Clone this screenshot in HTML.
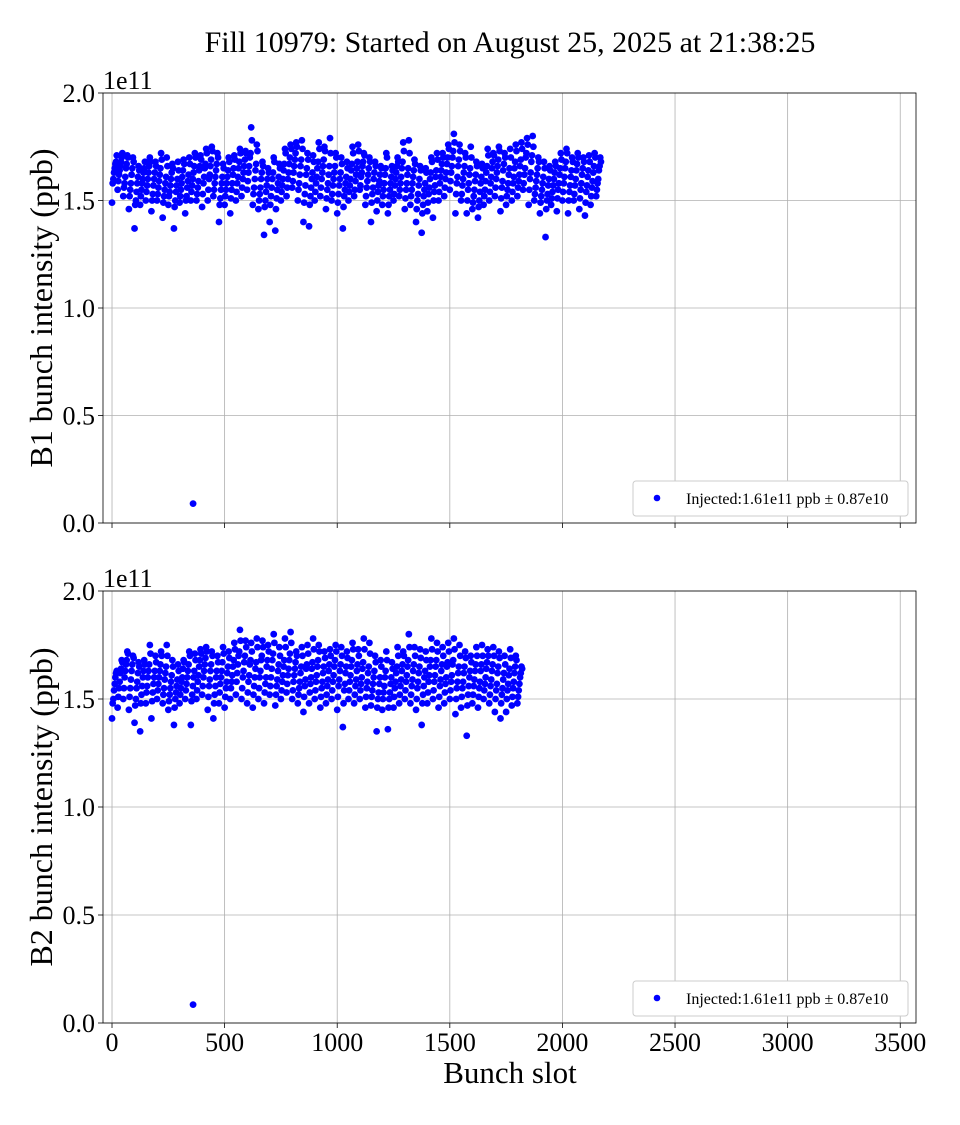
<!DOCTYPE html>
<html><head><meta charset="utf-8">
<style>
body{margin:0;background:#fff;}
svg text{font-family:"Liberation Serif",serif;fill:#000;}
</style></head>
<body>
<svg id="chart" width="960" height="1120" viewBox="0 0 960 1120" xmlns="http://www.w3.org/2000/svg">
<text x="510" y="52" font-size="30" text-anchor="middle">Fill 10979: Started on August 25, 2025 at 21:38:25</text>
<g id="p1"></g>
<g id="p2"></g>
<text x="510" y="1083" font-size="31" text-anchor="middle">Bunch slot</text>
</svg>
<script>
const xTicks=[0,500,1000,1500,2000,2500,3000,3500];
const yTicks=[0,0.5,1.0,1.5,2.0];
const yTickLabels=["0.0","0.5","1.0","1.5","2.0"];
const groupStarts1=[0,25,50,75,100,125,150,175,200,225,250,275,300,325,350,375,400,425,450,475,500,525,550,575,600,625,650,675,700,725,750,775,800,825,850,875,900,925,950,975,1000,1025,1050,1075,1100,1125,1150,1175,1200,1225,1250,1275,1300,1325,1350,1375,1400,1425,1450,1475,1500,1525,1550,1575,1600,1625,1650,1675,1700,1725,1750,1775,1800,1825,1850,1875,1900,1925,1950,1975,2000,2025,2050,2075,2100,2125,2150];
const b1Values=[[149,160,165,168],[155,162,166,170],[152,158,165,171],[146,155,162,170],[137,150,158,166],[148,155,160,165],[150,157,163,170],[145,153,160,168],[150,156,162,172],[142,152,158,170],[148,154,160,167],[137,150,157,168],[149,155,161,169],[144,152,159,170],[150,157,163,172],[150,156,164,171],[147,158,165,174],[150,160,166,175],[152,158,164,172],[140,151,158,167],[148,155,161,170],[144,155,162,171],[150,158,165,174],[152,160,166,173],[155,163,170,184],[148,156,164,176],[146,153,160,168],[134,150,157,165],[140,152,160,170],[136,151,158,167],[150,157,164,174],[152,160,167,176],[156,163,169,177],[150,158,166,178],[140,153,162,172],[138,152,160,171],[150,158,165,177],[152,160,166,175],[146,155,162,179],[150,157,163,172],[144,153,160,170],[137,152,158,168],[150,157,164,175],[152,159,165,176],[155,161,166,172],[148,156,162,170],[140,153,160,168],[145,154,159,166],[148,155,162,172],[144,152,158,166],[150,157,163,170],[152,158,165,177],[146,155,162,178],[148,155,161,169],[140,150,157,166],[135,148,155,165],[145,153,160,170],[142,154,161,172],[150,158,164,172],[152,160,167,176],[155,163,170,181],[144,158,166,176],[150,157,163,172],[144,155,162,175],[146,152,159,168],[142,150,158,167],[148,155,163,174],[150,158,165,172],[152,160,166,175],[145,156,164,172],[148,155,162,174],[150,158,165,176],[152,159,166,177],[155,162,170,179],[148,160,168,180],[150,156,162,170],[144,152,158,168],[133,150,157,166],[148,154,160,168],[145,155,162,172],[150,158,165,174],[144,154,161,170],[150,157,164,172],[146,155,162,170],[143,154,161,171],[148,156,163,172],[152,158,164,170]];
const b1ValuesB=[[158,163,167,171],[159,164,168,172],[156,161,167,170],[152,158,165,168],[148,154,161,164],[152,158,163,168],[154,160,166,168],[150,157,163,166],[153,159,165,169],[149,155,161,166],[152,157,163,165],[147,154,160,164],[152,158,164,167],[150,156,162,167],[154,160,166,170],[153,159,166,169],[153,161,167,172],[155,162,169,173],[155,161,167,170],[148,155,161,165],[152,158,164,168],[151,158,165,169],[154,161,168,172],[156,163,169,172],[159,166,172,178],[153,160,167,173],[150,156,163,166],[147,154,160,163],[148,156,163,168],[146,155,161,165],[154,160,167,172],[156,163,170,174],[159,166,172,175],[155,162,169,174],[149,157,165,169],[148,156,163,168],[154,161,168,174],[156,163,169,173],[151,158,166,172],[153,160,166,170],[149,157,163,167],[147,155,161,165],[154,160,167,172],[155,162,168,173],[157,163,168,171],[152,159,165,168],[149,156,163,166],[150,157,162,165],[152,158,165,170],[148,155,161,164],[153,160,166,168],[155,161,168,173],[151,158,165,172],[152,158,164,167],[146,153,160,164],[144,152,158,163],[149,156,163,168],[150,157,164,169],[154,161,167,170],[156,163,170,174],[159,166,173,177],[153,161,169,173],[153,160,166,170],[150,158,165,170],[149,155,162,166],[147,154,161,165],[152,159,166,171],[154,161,168,171],[156,163,169,173],[151,159,167,170],[152,158,165,170],[154,161,168,173],[156,162,169,174],[158,165,172,176],[155,163,171,175],[153,159,165,168],[149,155,161,165],[146,153,160,164],[151,157,163,166],[151,158,165,169],[154,161,168,172],[150,157,164,168],[153,160,167,170],[151,158,165,168],[149,157,164,168],[152,159,166,170],[155,160,166,168]];
const groupStarts2=[0,25,50,75,100,125,150,175,200,225,250,275,300,325,350,375,400,425,450,475,500,525,550,575,600,625,650,675,700,725,750,775,800,825,850,875,900,925,950,975,1000,1025,1050,1075,1100,1125,1150,1175,1200,1225,1250,1275,1300,1325,1350,1375,1400,1425,1450,1475,1500,1525,1550,1575,1600,1625,1650,1675,1700,1725,1750,1775,1800];
const b2Values=[[141,150,157,162],[146,155,162,168],[150,160,166,172],[145,155,163,170],[139,150,158,167],[135,152,160,168],[148,156,163,175],[141,153,160,170],[150,157,163,172],[148,155,162,175],[145,152,158,168],[138,150,156,166],[148,155,160,168],[150,157,163,172],[138,152,160,171],[150,158,165,173],[152,160,166,174],[145,156,163,172],[141,152,160,170],[148,157,163,174],[146,155,162,172],[150,158,165,176],[152,162,170,182],[150,160,167,177],[148,158,166,176],[146,156,164,178],[150,160,168,177],[148,157,165,175],[152,160,168,180],[147,156,163,174],[150,158,165,178],[153,161,168,181],[150,158,164,172],[148,155,162,174],[144,156,164,175],[148,157,164,178],[150,158,165,175],[146,155,162,172],[148,156,163,173],[150,158,165,175],[145,156,163,174],[137,154,162,172],[150,158,165,176],[148,156,163,173],[150,157,164,178],[146,155,162,176],[147,154,160,170],[135,150,157,168],[145,153,160,172],[136,150,157,167],[146,155,162,174],[148,156,163,172],[150,158,165,180],[148,156,163,174],[145,155,162,173],[138,152,160,172],[148,158,165,178],[150,158,165,176],[146,156,163,174],[148,157,165,176],[150,158,166,178],[143,155,162,175],[146,155,162,172],[133,152,160,170],[148,156,163,174],[146,155,163,175],[150,157,164,173],[148,156,163,174],[144,154,162,172],[141,152,159,170],[144,154,161,173],[147,155,162,170],[148,154,160,165]];
const b2ValuesB=[[148,154,160,163],[151,158,164,167],[155,163,168,171],[151,159,166,169],[147,155,162,165],[148,156,163,166],[153,160,166,171],[149,157,163,167],[154,160,166,170],[152,159,165,170],[149,155,161,165],[146,153,159,163],[152,158,164,167],[154,160,166,170],[149,156,163,168],[154,161,168,171],[156,163,169,172],[151,159,166,170],[148,156,163,167],[153,160,167,171],[151,158,165,169],[155,161,168,173],[158,166,172,177],[155,163,170,174],[153,161,168,172],[152,160,167,174],[155,163,170,174],[153,160,168,172],[156,164,171,176],[152,159,166,170],[154,161,168,174],[157,164,171,176],[154,161,167,170],[152,158,165,170],[151,159,166,171],[153,160,167,173],[154,161,168,172],[151,158,165,169],[152,159,166,170],[154,161,168,172],[151,159,166,170],[148,157,165,169],[154,161,168,173],[152,159,166,170],[154,160,167,173],[151,158,165,171],[151,157,163,167],[146,153,160,165],[150,156,163,168],[146,153,160,164],[151,158,165,170],[152,159,166,170],[154,161,168,174],[152,159,166,170],[150,158,165,169],[148,156,163,168],[153,161,168,173],[154,161,168,172],[151,159,166,170],[153,160,167,172],[154,161,168,173],[150,158,165,170],[151,158,165,169],[147,156,163,167],[152,159,166,170],[151,158,166,170],[154,160,167,170],[152,159,166,170],[150,157,165,169],[148,155,162,166],[150,157,164,169],[151,158,165,168],[151,157,162,164]];
const b1Outlier=[360,9];
const b2Outlier=[360,8.5];
const legendText="Injected:1.61e11 ppb \u00b1 0.87e10";

const NS="http://www.w3.org/2000/svg";
function mk(parent,tag,attrs){const e=document.createElementNS(NS,tag);for(const k in attrs)e.setAttribute(k,attrs[k]);parent.appendChild(e);return e;}
const L=103,R=916,xMin=-40,xMax=3570;
function xs(s){return L+(s-xMin)/(xMax-xMin)*(R-L);}

function panel(g,top,bottom,starts,vals,valsB,outlier,label,showX){
  const ys=v=>bottom-(v/2.0)*(bottom-top);
  for(const t of xTicks){const l=mk(g,'line',{x1:xs(t),x2:xs(t),y1:top,y2:bottom,stroke:'#b0b0b0','stroke-width':0.8});
    
    const tk=mk(g,'line',{x1:xs(t),x2:xs(t),y1:bottom,y2:bottom+5,stroke:'#000','stroke-width':0.8});
    
    if(showX){const tx=mk(g,'text',{x:xs(t),y:bottom+28,'font-size':26,'text-anchor':'middle'});tx.textContent=t;
      }
  }
  yTicks.forEach((t,i)=>{const l=mk(g,'line',{x1:L,x2:R,y1:ys(t),y2:ys(t),stroke:'#b0b0b0','stroke-width':0.8});
    
    const tk=mk(g,'line',{x1:L-5,x2:L,y1:ys(t),y2:ys(t),stroke:'#000','stroke-width':0.8});
    
    const tx=mk(g,'text',{x:L-8,y:ys(t)+9,'font-size':26,'text-anchor':'end'});tx.textContent=yTickLabels[i];
    });
  const off=mk(g,'text',{x:L,y:top-4,'font-size':26});off.textContent='1e11';
  
  const yl=mk(g,'text',{x:0,y:0,'font-size':32,'text-anchor':'middle',transform:`translate(52,${(top+bottom)/2}) rotate(-90)`});yl.textContent=label;
  
  starts.forEach((s,gi)=>{
    vals[gi].forEach((v,i)=>{
      const c=mk(g,'circle',{cx:xs(s+i*6),cy:ys(v/100),r:3.4,fill:'#0000ff'});
      });
    valsB[gi].forEach((v,i)=>{
      const c=mk(g,'circle',{cx:xs(s+3+i*6),cy:ys(v/100),r:3.4,fill:'#0000ff'});
      });
  });
  const o=mk(g,'circle',{cx:xs(outlier[0]),cy:ys(outlier[1]/100),r:3.4,fill:'#0000ff'});
  
  const fr=mk(g,'rect',{x:L,y:top,width:R-L,height:bottom-top,fill:'none',stroke:'#000','stroke-width':0.8});
  
  const lg=mk(g,'g',{});
  mk(lg,'rect',{x:633,y:bottom-42,width:275,height:35,rx:3,fill:'#fff',stroke:'#ccc','stroke-width':1});
  mk(lg,'circle',{cx:657,cy:bottom-25,r:3.3,fill:'#0000ff'});
  const lt=mk(lg,'text',{x:686,y:bottom-19,'font-size':16});lt.textContent=legendText;
  
}
panel(document.getElementById('p1'),93,523,groupStarts1,b1Values,b1ValuesB,b1Outlier,'B1 bunch intensity (ppb)',false);
panel(document.getElementById('p2'),591,1023,groupStarts2,b2Values,b2ValuesB,b2Outlier,'B2 bunch intensity (ppb)',true);
</script>
</body></html>
